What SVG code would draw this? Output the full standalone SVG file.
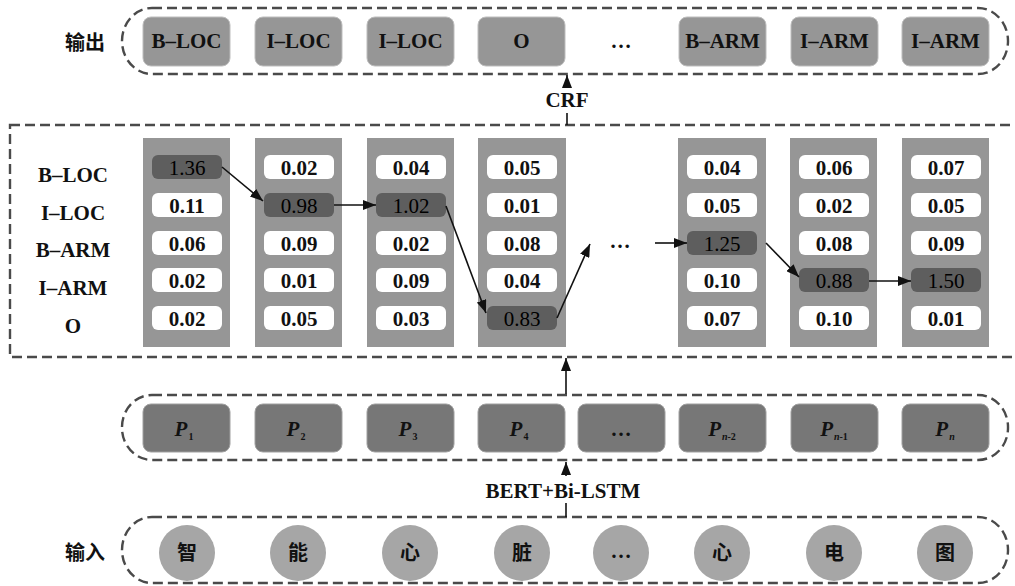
<svg xmlns="http://www.w3.org/2000/svg" width="1015" height="586" viewBox="0 0 1015 586">
<defs>
<marker id="ah" markerUnits="userSpaceOnUse" markerWidth="14" markerHeight="10" refX="13" refY="5" orient="auto">
<path d="M0,0 L13,5 L0,10 Z" fill="#111"/>
</marker>
<style>
.dash{fill:none;stroke:#4a4a4a;stroke-width:2.4;stroke-dasharray:10 5}
.obox{fill:#969696;stroke:#bdbdbd;stroke-width:1}
.pbox{fill:#777;stroke:#a0a0a0;stroke-width:1}
.col{fill:#969696}
.cell{fill:#fff}
.hcell{fill:#5e5e5e}
.circ{fill:#a6a6a6}
.t{font-family:'Liberation Serif','DejaVu Serif',serif;font-weight:bold;font-size:21px;fill:#111;text-anchor:middle}
.n{font-family:'Liberation Serif','DejaVu Serif',serif;font-weight:bold;font-size:21px;fill:#111;text-anchor:middle}
.hn{font-family:'Liberation Serif','DejaVu Serif',serif;font-size:21px;fill:#000;text-anchor:middle}
.cn{font-family:'Noto Sans CJK SC','Noto Sans CJK JP',sans-serif;font-weight:bold;font-size:20px;fill:#111;text-anchor:middle}
.p{font-family:'Liberation Serif','DejaVu Serif',serif;font-weight:bold;font-style:italic;font-size:21px;fill:#111;text-anchor:middle}
.conn{stroke:#111;stroke-width:1.6;fill:none}
</style>
</defs>
<rect width="1015" height="586" fill="#fff"/>

<!-- output layer -->
<g id="output">
<text class="cn" x="85" y="50">输出</text>
<rect class="dash" x="122" y="8" width="886" height="66" rx="30" ry="33"/>
<g id="out1"><rect class="obox" x="143" y="17" width="87" height="49" rx="8"/><text class="t" x="186.5" y="48">B–LOC</text></g>
<g id="out2"><rect class="obox" x="255" y="17" width="87" height="49" rx="8"/><text class="t" x="298.5" y="48">I–LOC</text></g>
<g id="out3"><rect class="obox" x="367" y="17" width="87" height="49" rx="8"/><text class="t" x="410.5" y="48">I–LOC</text></g>
<g id="out4"><rect class="obox" x="478" y="17" width="87" height="49" rx="8"/><text class="t" x="521.5" y="48">O</text></g>
<text class="t" x="621" y="48">…</text>
<g id="out5"><rect class="obox" x="679" y="17" width="87" height="49" rx="8"/><text class="t" x="722.5" y="48">B–ARM</text></g>
<g id="out6"><rect class="obox" x="791" y="17" width="87" height="49" rx="8"/><text class="t" x="834.5" y="48">I–ARM</text></g>
<g id="out7"><rect class="obox" x="902" y="17" width="87" height="49" rx="8"/><text class="t" x="945.5" y="48">I–ARM</text></g>
</g>

<!-- CRF layer -->
<g id="crf">
<rect class="dash" x="10" y="125" width="1015" height="232"/>
<text class="t" x="73" y="182">B–LOC</text>
<text class="t" x="73" y="220">I–LOC</text>
<text class="t" x="73" y="257">B–ARM</text>
<text class="t" x="73" y="295">I–ARM</text>
<text class="t" x="73" y="333">O</text>

<g id="c1"><rect class="col" x="143" y="138" width="87" height="209"/>
<rect class="hcell" x="152" y="155" width="70" height="24" rx="6"/><text class="hn" x="187" y="175">1.36</text>
<rect class="cell" x="152" y="193" width="70" height="24" rx="6"/><text class="n" x="187" y="213">0.11</text>
<rect class="cell" x="152" y="231" width="70" height="24" rx="6"/><text class="n" x="187" y="251">0.06</text>
<rect class="cell" x="152" y="268" width="70" height="24" rx="6"/><text class="n" x="187" y="288">0.02</text>
<rect class="cell" x="152" y="306" width="70" height="24" rx="6"/><text class="n" x="187" y="326">0.02</text></g>

<g id="c2"><rect class="col" x="255" y="138" width="87" height="209"/>
<rect class="cell" x="264" y="155" width="70" height="24" rx="6"/><text class="n" x="299" y="175">0.02</text>
<rect class="hcell" x="264" y="193" width="70" height="24" rx="6"/><text class="hn" x="299" y="213">0.98</text>
<rect class="cell" x="264" y="231" width="70" height="24" rx="6"/><text class="n" x="299" y="251">0.09</text>
<rect class="cell" x="264" y="268" width="70" height="24" rx="6"/><text class="n" x="299" y="288">0.01</text>
<rect class="cell" x="264" y="306" width="70" height="24" rx="6"/><text class="n" x="299" y="326">0.05</text></g>

<g id="c3"><rect class="col" x="367" y="138" width="87" height="209"/>
<rect class="cell" x="376" y="155" width="70" height="24" rx="6"/><text class="n" x="411" y="175">0.04</text>
<rect class="hcell" x="376" y="193" width="70" height="24" rx="6"/><text class="hn" x="411" y="213">1.02</text>
<rect class="cell" x="376" y="231" width="70" height="24" rx="6"/><text class="n" x="411" y="251">0.02</text>
<rect class="cell" x="376" y="268" width="70" height="24" rx="6"/><text class="n" x="411" y="288">0.09</text>
<rect class="cell" x="376" y="306" width="70" height="24" rx="6"/><text class="n" x="411" y="326">0.03</text></g>

<g id="c4"><rect class="col" x="478" y="138" width="88" height="209"/>
<rect class="cell" x="487" y="155" width="70" height="24" rx="6"/><text class="n" x="522" y="175">0.05</text>
<rect class="cell" x="487" y="193" width="70" height="24" rx="6"/><text class="n" x="522" y="213">0.01</text>
<rect class="cell" x="487" y="231" width="70" height="24" rx="6"/><text class="n" x="522" y="251">0.08</text>
<rect class="cell" x="487" y="268" width="70" height="24" rx="6"/><text class="n" x="522" y="288">0.04</text>
<rect class="hcell" x="487" y="306" width="70" height="24" rx="6"/><text class="hn" x="522" y="326">0.83</text></g>

<text class="t" x="620" y="248">…</text>

<g id="c5"><rect class="col" x="678" y="138" width="88" height="209"/>
<rect class="cell" x="687" y="155" width="70" height="24" rx="6"/><text class="n" x="722" y="175">0.04</text>
<rect class="cell" x="687" y="193" width="70" height="24" rx="6"/><text class="n" x="722" y="213">0.05</text>
<rect class="hcell" x="687" y="231" width="70" height="24" rx="6"/><text class="hn" x="722" y="251">1.25</text>
<rect class="cell" x="687" y="268" width="70" height="24" rx="6"/><text class="n" x="722" y="288">0.10</text>
<rect class="cell" x="687" y="306" width="70" height="24" rx="6"/><text class="n" x="722" y="326">0.07</text></g>

<g id="c6"><rect class="col" x="790" y="138" width="87" height="209"/>
<rect class="cell" x="799" y="155" width="70" height="24" rx="6"/><text class="n" x="834" y="175">0.06</text>
<rect class="cell" x="799" y="193" width="70" height="24" rx="6"/><text class="n" x="834" y="213">0.02</text>
<rect class="cell" x="799" y="231" width="70" height="24" rx="6"/><text class="n" x="834" y="251">0.08</text>
<rect class="hcell" x="799" y="268" width="70" height="24" rx="6"/><text class="hn" x="834" y="288">0.88</text>
<rect class="cell" x="799" y="306" width="70" height="24" rx="6"/><text class="n" x="834" y="326">0.10</text></g>

<g id="c7"><rect class="col" x="902" y="138" width="87" height="209"/>
<rect class="cell" x="911" y="155" width="70" height="24" rx="6"/><text class="n" x="946" y="175">0.07</text>
<rect class="cell" x="911" y="193" width="70" height="24" rx="6"/><text class="n" x="946" y="213">0.05</text>
<rect class="cell" x="911" y="231" width="70" height="24" rx="6"/><text class="n" x="946" y="251">0.09</text>
<rect class="hcell" x="911" y="268" width="70" height="24" rx="6"/><text class="hn" x="946" y="288">1.50</text>
<rect class="cell" x="911" y="306" width="70" height="24" rx="6"/><text class="n" x="946" y="326">0.01</text></g>
</g>

<!-- P layer -->
<g id="players">
<rect class="dash" x="122" y="395" width="886" height="65" rx="30" ry="32"/>
<g id="p1"><rect class="pbox" x="143" y="404" width="87" height="48" rx="8"/><text class="p" x="184" y="436">P<tspan font-size="10" font-style="normal" dx="1" dy="4">1</tspan></text></g>
<g id="p2"><rect class="pbox" x="255" y="404" width="87" height="48" rx="8"/><text class="p" x="296" y="436">P<tspan font-size="10" font-style="normal" dx="1" dy="4">2</tspan></text></g>
<g id="p3"><rect class="pbox" x="367" y="404" width="87" height="48" rx="8"/><text class="p" x="408" y="436">P<tspan font-size="10" font-style="normal" dx="1" dy="4">3</tspan></text></g>
<g id="p4"><rect class="pbox" x="478" y="404" width="87" height="48" rx="8"/><text class="p" x="519" y="436">P<tspan font-size="10" font-style="normal" dx="1" dy="4">4</tspan></text></g>
<g id="pdots"><rect class="pbox" x="578" y="404" width="87" height="48" rx="8"/><text class="t" x="621" y="436">…</text></g>
<g id="pn2"><rect class="pbox" x="679" y="404" width="87" height="48" rx="8"/><text class="p" x="722" y="436">P<tspan font-size="10" dx="1" dy="4">n</tspan><tspan font-size="10" font-style="normal" dy="0">-2</tspan></text></g>
<g id="pn1"><rect class="pbox" x="791" y="404" width="87" height="48" rx="8"/><text class="p" x="834" y="436">P<tspan font-size="10" dx="1" dy="4">n</tspan><tspan font-size="10" font-style="normal" dy="0">-1</tspan></text></g>
<g id="pn"><rect class="pbox" x="902" y="404" width="87" height="48" rx="8"/><text class="p" x="945" y="436">P<tspan font-size="10" dx="1" dy="4">n</tspan></text></g>
</g>

<!-- input layer -->
<g id="input">
<text class="cn" x="85" y="560">输入</text>
<rect class="dash" x="122" y="517" width="886" height="66" rx="30" ry="33"/>
<g id="i1"><circle class="circ" cx="187" cy="553" r="28"/><text class="cn" x="187" y="560">智</text></g>
<g id="i2"><circle class="circ" cx="298" cy="553" r="28"/><text class="cn" x="298" y="560">能</text></g>
<g id="i3"><circle class="circ" cx="410" cy="553" r="28"/><text class="cn" x="410" y="560">心</text></g>
<g id="i4"><circle class="circ" cx="522" cy="553" r="28"/><text class="cn" x="522" y="560">脏</text></g>
<g id="i5"><circle class="circ" cx="621" cy="553" r="28"/><text class="t" x="621" y="558">…</text></g>
<g id="i6"><circle class="circ" cx="722" cy="553" r="28"/><text class="cn" x="722" y="560">心</text></g>
<g id="i7"><circle class="circ" cx="834" cy="553" r="28"/><text class="cn" x="834" y="560">电</text></g>
<g id="i8"><circle class="circ" cx="945" cy="553" r="28"/><text class="cn" x="945" y="560">图</text></g>
</g>

<!-- connectors -->
<g id="connectors">
<line class="conn" x1="222" y1="167" x2="263" y2="201" marker-end="url(#ah)"/>
<line class="conn" x1="334" y1="205" x2="376" y2="205" marker-end="url(#ah)"/>
<line class="conn" x1="446" y1="206" x2="486" y2="313" marker-end="url(#ah)"/>
<line class="conn" x1="557" y1="318" x2="590" y2="244" marker-end="url(#ah)"/>
<line class="conn" x1="655" y1="243" x2="687" y2="243" marker-end="url(#ah)"/>
<line class="conn" x1="766" y1="243" x2="799" y2="277" marker-end="url(#ah)"/>
<line class="conn" x1="869" y1="281" x2="911" y2="281" marker-end="url(#ah)"/>
<line class="conn" x1="567" y1="125" x2="567" y2="113"/>
<line class="conn" x1="567" y1="86" x2="567" y2="75" marker-end="url(#ah)"/>
<line class="conn" x1="566" y1="394" x2="566" y2="358" marker-end="url(#ah)"/>
<line class="conn" x1="566" y1="517" x2="566" y2="503"/>
<line class="conn" x1="566" y1="476" x2="566" y2="462" marker-end="url(#ah)"/>
</g>
<text class="t" x="567" y="107">CRF</text>
<text class="t" x="563" y="498">BERT+Bi-LSTM</text>
</svg>
